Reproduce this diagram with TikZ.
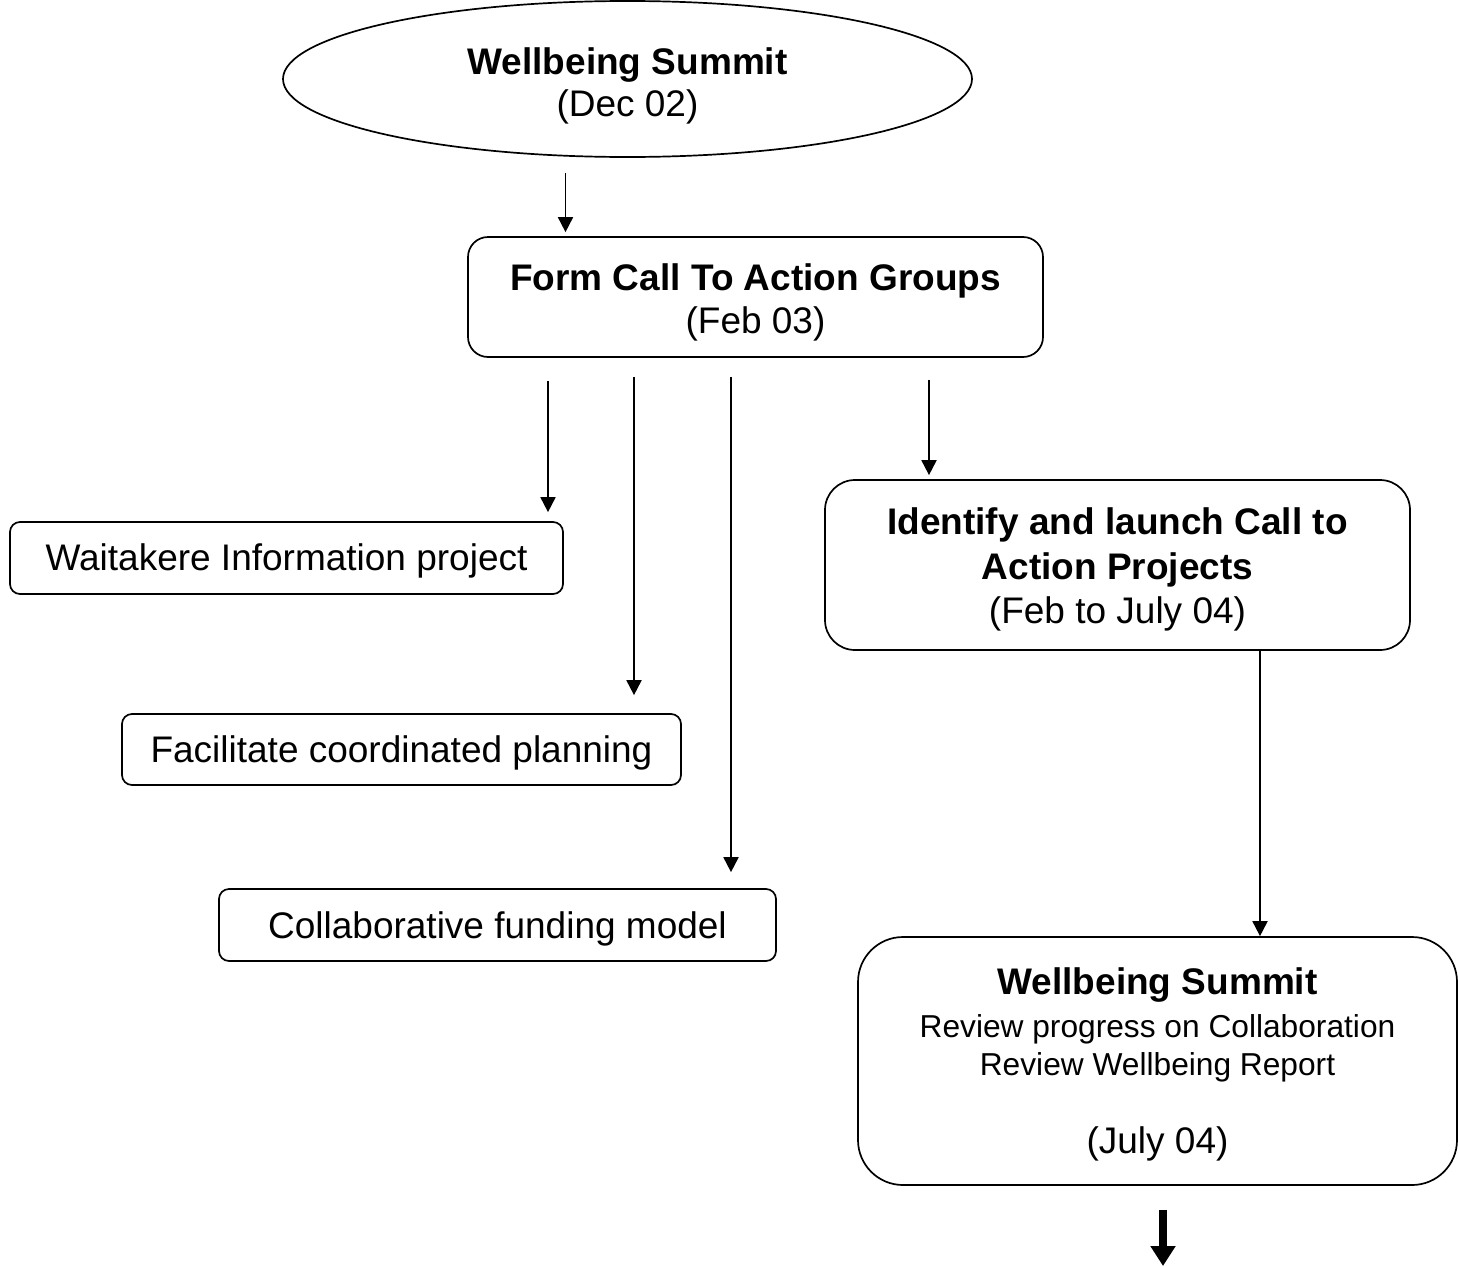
\documentclass[tikz,border=0pt]{standalone}
\usepackage{fontspec}
\setmainfont{Liberation Sans}
\usetikzlibrary{shapes.geometric,arrows.meta,calc}
\newcommand{\lift}[1]{\rule{0pt}{#1}}
\tikzset{
  box/.style={draw, line width=1.7pt, rounded corners=#1, inner sep=0pt, align=center,
    font=\fontsize{37}{43}\selectfont},
  box/.default=10pt,
  arr/.style={line width=1.8pt, -{Triangle[length=15pt,width=15pt]}},
  bigarr/.style={line width=7.5pt, -{Triangle[length=20pt,width=24pt]}},
}
\begin{document}
\begin{tikzpicture}[x=1pt,y=-1pt]
\useasboundingbox (0,0) rectangle (1458,1266);
\node[draw, ellipse, line width=1.7pt, minimum width=689pt, minimum height=156pt, inner sep=0pt,
  align=center, font=\fontsize{37}{42}\selectfont] (summit) at (627.5,79)
  {\lift{41pt}\textbf{Wellbeing Summit}\\(Dec 02)};
\node[box=20pt, minimum width=575pt, minimum height=120pt] (form) at (755.5,297)
  {\lift{37pt}\textbf{Form Call To Action Groups}\\(Feb 03)};
\node[box, minimum width=553pt, minimum height=72pt] (waita) at (286.5,558) {\lift{33pt}Waitakere Information project};
\node[box, minimum width=559pt, minimum height=71pt] (facil) at (401.5,749.5) {\lift{33pt}Facilitate coordinated planning};
\node[box, minimum width=557pt, minimum height=72pt] (collab) at (497.5,925) {\lift{35pt}Collaborative funding model};
\node[box=30pt, minimum width=585pt, minimum height=170pt, font=\fontsize{37}{44.5}\selectfont] (ident) at (1117.5,565)
  {\lift{36pt}\textbf{Identify and launch Call to}\\\textbf{Action Projects}\\(Feb to July 04)};
\node[box=45pt, minimum width=599pt, minimum height=248pt, font=\fontsize{31.7}{38}\selectfont] (final) at (1157.5,1061)
  {\lift{34pt}{\fontsize{37}{38}\selectfont\bfseries Wellbeing Summit}\\[5pt]
   Review progress on Collaboration\\
   Review Wellbeing Report\\[40pt]
   {\fontsize{37}{38}\selectfont (July 04)}};
% x positions of connectors
\coordinate (c0) at (565.5,0);
\coordinate (c1) at (548,0);
\coordinate (c2) at (634,0);
\coordinate (c3) at (731,0);
\coordinate (c4) at (929,0);
\coordinate (c5) at (1260,0);
\coordinate (endbig) at (1163,1266);
\draw[arr, shorten <=15pt, shorten >=4pt] (summit.south -| c0) -- (form.north -| c0);
\draw[arr, shorten <=23pt, shorten >=9pt] (form.south -| c1) -- (waita.north -| c1);
\draw[arr, shorten <=19pt, shorten >=18pt] (form.south -| c2) -- (facil.north -| c2);
\draw[arr, shorten <=19pt, shorten >=16pt] (form.south -| c3) -- (collab.north -| c3);
\draw[arr, shorten <=22pt, shorten >=4pt] (form.south -| c4) -- (ident.north -| c4);
\draw[arr] (ident.south -| c5) -- (final.north -| c5);
\draw[bigarr, shorten <=24pt] (final.south -| endbig) -- (endbig);
\end{tikzpicture}
\end{document}
